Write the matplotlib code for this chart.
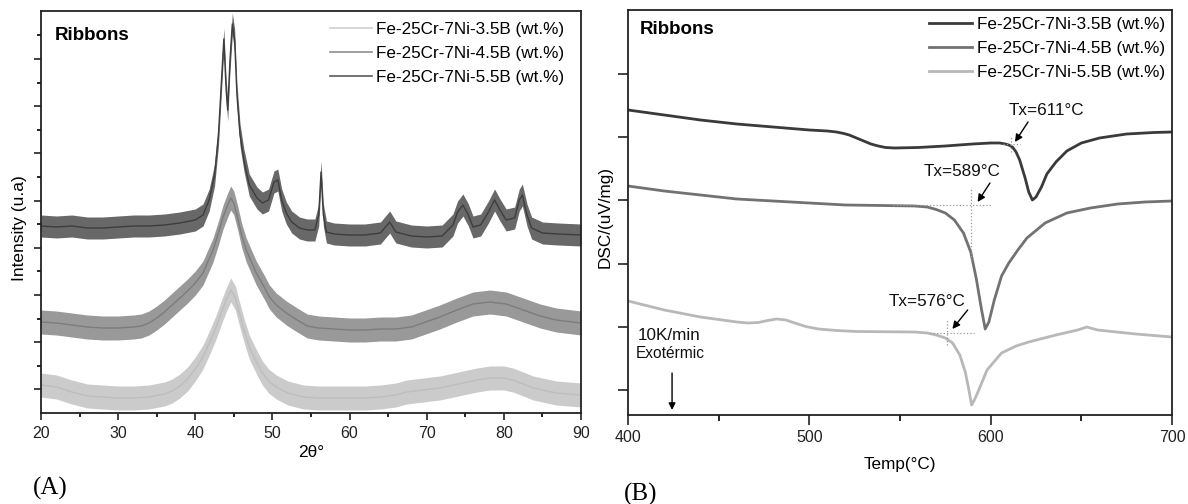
import numpy as np
import matplotlib
matplotlib.use("Agg")
import matplotlib.pyplot as plt
from matplotlib.lines import Line2D

plt.rcParams['font.family'] = ['Liberation Sans', 'DejaVu Sans']

# ---------------- (A) XRD data (intensity, a.u.) ----------------
xrd_labels = ['Fe-25Cr-7Ni-3.5B (wt.%)', 'Fe-25Cr-7Ni-4.5B (wt.%)', 'Fe-25Cr-7Ni-5.5B (wt.%)']

# light grey curve (lowest, amorphous)
xrd_35_x = [20, 22, 24, 26, 28, 30, 32, 34, 36, 37, 38, 39, 40, 41, 42.0, 42.7, 43.5, 44.0, 44.6,
            45.2, 45.7, 46.3, 47.0, 48.0, 48.7, 49.5, 50.5, 52, 54, 56, 58, 60, 62, 64, 66, 67.4,
            69.5, 71.7, 74.7, 76.5, 78.2, 80, 81.2, 83.8, 86.8, 90]
xrd_35_y = [28, 26, 21, 17, 16, 15, 15, 16, 19, 22, 27, 34, 44, 56, 73, 86, 103, 113, 123,
            115, 100, 83, 66, 50, 40, 32, 26, 20, 16, 15, 15, 15, 15, 16, 18, 21,
            23, 25, 30, 33, 35, 35, 33, 25, 20, 18]

# medium grey curve (middle)
xrd_45_x = [20, 22, 24, 26, 28, 30, 32, 33, 34, 35, 36, 37, 38, 39, 40, 41, 42.3, 43.0, 43.6,
            44.2, 44.6, 45.0, 45.5, 46.0, 46.6, 47.9, 49.0, 49.6, 50.5, 51.8, 53, 54.5, 56, 58,
            60, 62, 64, 66, 68, 69.5, 71.7, 73.9, 76, 78.2, 80.3, 82.5, 84.7, 86.8, 90]
xrd_45_y = [91, 90, 88, 86, 85, 85, 86, 87, 90, 95, 101, 108, 115, 122, 130, 140, 163, 180, 196,
            208, 215, 210, 195, 178, 163, 140, 125, 116, 108, 100, 94, 87, 85, 84,
            83, 83, 84, 84, 86, 90, 96, 103, 109, 111, 109, 103, 97, 93, 90]

# dark curve (top, crystalline peaks)
xrd_55_x = [20, 22, 24, 26, 28, 30, 32, 34, 36, 38, 40, 41, 41.8, 42.5, 43.0, 43.4, 43.7, 44.0,
            44.2, 44.5, 44.8, 45.1, 45.4, 45.8, 46.3, 47.0, 48.0, 48.7, 49.5, 50.2, 50.7, 51.2,
            51.8, 52.5, 53.5, 54.5, 55.5, 56.0, 56.3, 56.6, 57.0, 58, 60, 62, 64, 65.2, 66, 68,
            70, 72, 73.4, 74.0, 74.7, 75.4, 76.0, 77.0, 78.0, 78.8, 79.5, 80.3, 81.4, 82.0,
            82.4, 83.0, 83.6, 85, 87, 90]
xrd_55_y = [187, 186, 187, 185, 185, 186, 187, 187, 188, 190, 193, 198, 213, 238, 278, 333, 374, 323,
            303, 353, 389, 373, 318, 278, 253, 228, 215, 210, 213, 231, 233, 213,
            200, 191, 185, 183, 183, 198, 241, 198, 181, 179, 178, 178, 180, 191, 181, 177,
            176, 177, 188, 201, 208, 198, 186, 188, 201, 213, 203, 193, 195, 213,
            218, 198, 185, 180, 179, 178]

xrd_noise = [12, 12, 11]          # half-width of the noise band of each pattern
xrd_colors = ['#bdbdbd', '#7c7c7c', '#3d3d3d']

# ---------------- (B) DSC data (a.u.) ----------------
dsc_labels = ['Fe-25Cr-7Ni-3.5B (wt.%)', 'Fe-25Cr-7Ni-4.5B (wt.%)', 'Fe-25Cr-7Ni-5.5B (wt.%)']
dsc_35_T = [400, 420, 440, 460, 480, 500, 510, 515, 519, 522, 526, 530, 534, 538, 542, 547, 560,
            575, 590, 600, 605, 608, 610, 612, 614, 616, 619, 621, 623, 625, 628, 631, 636,
            642, 650, 660, 675, 690, 700]
dsc_35_y = [305, 300, 295, 291, 288, 285, 284, 283, 281.5, 280, 277, 274, 271, 269, 267.5, 267,
            267.5, 269, 271, 272, 272, 271, 270, 268, 263, 255, 237, 223, 215, 218, 228, 241, 253,
            264, 272, 277, 281, 282.5, 283]
dsc_45_T = [400, 420, 440, 460, 480, 500, 520, 540, 558, 565, 570, 575, 580, 585, 589, 592, 595,
            597, 599, 602, 606, 610, 615, 620, 630, 642, 655, 670, 685, 700]
dsc_45_y = [229, 224, 220, 216, 214, 212, 210, 209.5, 209, 208, 205.5, 202, 195, 182, 163, 137,
            105, 86, 93, 115, 139, 152, 165, 177, 192, 202, 207, 211, 213, 214]
dsc_55_T = [400, 420, 440, 460, 466, 472, 477, 482, 487, 492, 498, 505, 515, 526, 558, 565, 570,
            575, 579, 583, 586, 588, 589.5, 591, 593, 598, 606, 614, 621, 636, 648, 653, 659,
            680, 700]
dsc_55_y = [114, 105, 98, 93, 92, 92.5, 94.5, 96, 95, 92, 88.5, 86, 84.5, 83.5, 83, 82, 80,
            77, 72, 60, 43, 25, 10, 15, 23, 45, 62, 69, 73, 80, 85, 88, 85, 81, 78]
dsc_colors = ['#3a3a3a', '#727272', '#b8b8b8']

# onset temperatures and their annotations
tx_values = [611, 589, 576]
tx_baseline = [271, 210, 82]
tx_text_pos = [(630.5, 304), (584.2, 243), (564.9, 113)]
tx_arrow_from = [(620.6, 293), (599.6, 232), (587.3, 105)]
tx_arrow_to = [(613.4, 273), (592.8, 213), (578.9, 86)]
tx_hline = [(606.8, 616.2), (546, 601), (566.5, 591)]
tx_vline = [(263, 278), (155, 228), (70, 95)]

# ---------------- figure ----------------
fig = plt.figure(figsize=(11.88, 5.04), dpi=100)
axA = fig.add_axes([41 / 1188, 1 - 413 / 504, 540 / 1188, 402 / 504])
axB = fig.add_axes([628 / 1188, 1 - 415 / 504, 544 / 1188, 405 / 504])

# ---- panel A ----
series = [(xrd_35_x, xrd_35_y), (xrd_45_x, xrd_45_y), (xrd_55_x, xrd_55_y)]
order = [2, 0, 1]
for i in order:
    x, y = series[i]
    x = np.asarray(x, float)
    y = np.asarray(y, float)
    axA.fill_between(x, y - xrd_noise[i], y + xrd_noise[i], color=xrd_colors[i],
                     lw=0, alpha=0.78)
    axA.plot(x, y, color=xrd_colors[i], lw=1.0)

axA.set_xlim(20, 90)
axA.set_ylim(0, 402)
step = 23.6
axA.set_yticks([step * k for k in range(1, 17, 2)])
axA.set_yticks([step * k for k in range(2, 17, 2)], minor=True)
axA.set_yticklabels([])
axA.set_xticks(range(20, 91, 10))
axA.set_xticks(range(25, 90, 10), minor=True)
axA.tick_params(axis='both', which='major', direction='out', length=5, width=1.2,
                labelsize=11.5, pad=4, colors='#222222')
axA.tick_params(axis='both', which='minor', direction='out', length=3, width=1.2)
for s in axA.spines.values():
    s.set_linewidth(1.3)
    s.set_color('#222222')
axA.set_xlabel('2θ°', fontsize=12.5)
axA.xaxis.set_label_coords(0.5, -0.080)
axA.set_ylabel('Intensity (u.a)', fontsize=12.5)
axA.yaxis.set_label_coords(-0.026, 0.46)
axA.text(0.026, 0.940, 'Ribbons', transform=axA.transAxes, fontsize=13.5,
         fontweight='bold', va='center', ha='left')
handlesA = [Line2D([], [], color=c, lw=1.2) for c in ['#cfcfcf', '#8e8e8e', '#5a5a5a']]
axA.legend(handlesA, xrd_labels, loc='upper right', bbox_to_anchor=(0.9685, 0.972),
           frameon=False, fontsize=12.3, borderpad=0, borderaxespad=0,
           handlelength=2.45, handletextpad=0.25, labelspacing=0.52)

# ---- panel B ----
dsc = [(dsc_35_T, dsc_35_y), (dsc_45_T, dsc_45_y), (dsc_55_T, dsc_55_y)]
linesB = []
for (T, y), c, lab in zip(dsc, dsc_colors, dsc_labels):
    ln, = axB.plot(T, y, color=c, lw=2.0, label=lab, solid_joinstyle='round')
    linesB.append(ln)

for k in range(3):
    axB.plot(tx_hline[k], [tx_baseline[k]] * 2, ls=':', color='#9a9a9a', lw=0.9)
    axB.plot([tx_values[k]] * 2, tx_vline[k], ls=':', color='#9a9a9a', lw=0.9)
    axB.annotate('', xy=tx_arrow_to[k], xytext=tx_arrow_from[k],
                 arrowprops=dict(arrowstyle='-|>', color='black', lw=1.0,
                                 mutation_scale=11, shrinkA=0, shrinkB=0))
    axB.text(*tx_text_pos[k], f'Tx={tx_values[k]}°C', fontsize=12.3, ha='center',
             va='center', color='#111111')

axB.text(405.3, 80, '10K/min', fontsize=12.3, ha='left', va='center', color='#111111')
axB.text(404.4, 62, 'Exotérmic', fontsize=11.2, ha='left', va='center', color='#111111')
axB.annotate('', xy=(424.3, 5), xytext=(424.3, 42),
             arrowprops=dict(arrowstyle='-|>', color='black', lw=1.0,
                             mutation_scale=10, shrinkA=0, shrinkB=0))

axB.set_xlim(400, 700)
axB.set_ylim(0, 405)
axB.set_yticks([25, 88, 151, 214.5, 278, 341])
axB.set_yticklabels([])
axB.set_xticks([400, 500, 600, 700])
axB.set_xticks([450, 550, 650], minor=True)
axB.tick_params(axis='both', which='major', direction='out', length=7, width=1.2,
                labelsize=11.5, pad=4, colors='#222222')
axB.tick_params(axis='both', which='minor', direction='out', length=4.5, width=1.2)
for s in axB.spines.values():
    s.set_linewidth(1.3)
    s.set_color('#222222')
axB.set_xlabel('Temp(°C)', fontsize=12.3)
axB.xaxis.set_label_coords(0.5, -0.103)
axB.set_ylabel('DSC/(uV/mg)', fontsize=12.3)
axB.yaxis.set_label_coords(-0.028, 0.49)
axB.text(0.022, 0.951, 'Ribbons', transform=axB.transAxes, fontsize=13.5,
         fontweight='bold', va='center', ha='left')
axB.legend(linesB, dsc_labels, loc='upper right', bbox_to_anchor=(0.987, 0.983),
           frameon=False, fontsize=12.3, borderpad=0, borderaxespad=0,
           handlelength=2.5, handletextpad=0.3, labelspacing=0.52)

fig.text(33 / 1188, 1 - 488 / 504, '(A)', family='Liberation Serif', fontsize=18,
         ha='left', va='center')
fig.text(624 / 1188, 1 - 494 / 504, '(B)', family='Liberation Serif', fontsize=18,
         ha='left', va='center')

fig.savefig('out.png', dpi=100)
